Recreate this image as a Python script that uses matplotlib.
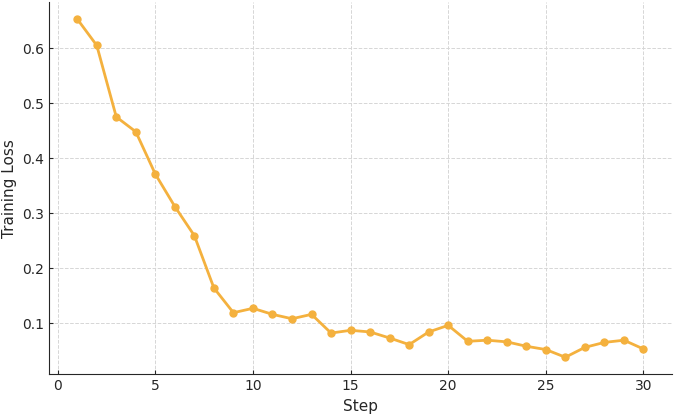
import matplotlib
matplotlib.use("Agg")
import matplotlib.pyplot as plt

steps = list(range(1, 31))
loss = [0.653, 0.605, 0.475, 0.448, 0.371, 0.312, 0.259, 0.164, 0.119, 0.127,
        0.116, 0.108, 0.116, 0.082, 0.087, 0.084, 0.073, 0.061, 0.084, 0.096,
        0.067, 0.069, 0.066, 0.058, 0.052, 0.038, 0.056, 0.065, 0.069, 0.053]

fig, ax = plt.subplots(figsize=(6.89, 4.19), dpi=100)
ax.plot(steps, loss, color='#F4B13E', linewidth=2, marker='o', markersize=5)

ax.set_xlabel('Step', fontsize=11, color='#262626')
ax.set_ylabel('Training Loss', fontsize=11, color='#262626')
ax.tick_params(direction='in', labelsize=10, colors='#262626', length=3)
ax.set_yticks([0.1, 0.2, 0.3, 0.4, 0.5, 0.6])
ax.grid(True, linestyle='--', color='#d6d6d6', linewidth=0.7)
ax.spines['top'].set_visible(False)
ax.spines['right'].set_visible(False)
for s in ('left', 'bottom'):
    ax.spines[s].set_color('#262626')

fig.subplots_adjust(left=0.071, right=0.975, bottom=0.107, top=0.995)
fig.savefig('out.png', dpi=100)
